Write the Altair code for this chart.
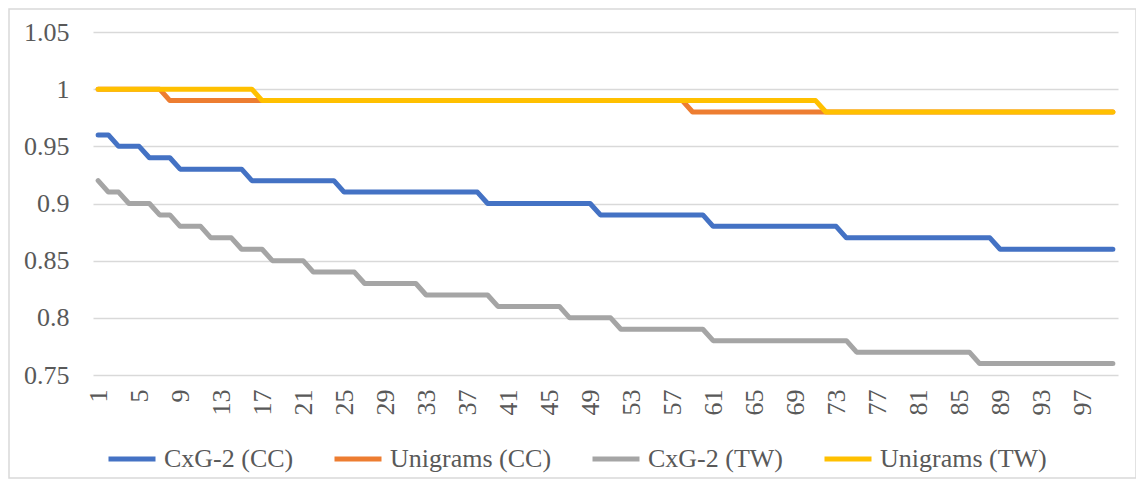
import altair as alt
import pandas as pd

# ---- data -------------------------------------------------------------
x_index = list(range(1, 101))
series_names = ["CxG-2 (CC)", "Unigrams (CC)", "CxG-2 (TW)", "Unigrams (TW)"]
series_colors = ["#4472C4", "#ED7D31", "#A5A5A5", "#FFC000"]
x_tick_labels = [1, 5, 9, 13, 17, 21, 25, 29, 33, 37, 41, 45, 49, 53, 57, 61, 65, 69, 73, 77, 81, 85, 89, 93, 97]
y_ticks = [0.75, 0.8, 0.85, 0.9, 0.95, 1, 1.05]

cxg_cc = [
    0.96, 0.96, 0.95, 0.95, 0.95, 0.94, 0.94, 0.94, 0.93, 0.93,
    0.93, 0.93, 0.93, 0.93, 0.93, 0.92, 0.92, 0.92, 0.92, 0.92,
    0.92, 0.92, 0.92, 0.92, 0.91, 0.91, 0.91, 0.91, 0.91, 0.91,
    0.91, 0.91, 0.91, 0.91, 0.91, 0.91, 0.91, 0.91, 0.90, 0.90,
    0.90, 0.90, 0.90, 0.90, 0.90, 0.90, 0.90, 0.90, 0.90, 0.89,
    0.89, 0.89, 0.89, 0.89, 0.89, 0.89, 0.89, 0.89, 0.89, 0.89,
    0.88, 0.88, 0.88, 0.88, 0.88, 0.88, 0.88, 0.88, 0.88, 0.88,
    0.88, 0.88, 0.88, 0.87, 0.87, 0.87, 0.87, 0.87, 0.87, 0.87,
    0.87, 0.87, 0.87, 0.87, 0.87, 0.87, 0.87, 0.87, 0.86, 0.86,
    0.86, 0.86, 0.86, 0.86, 0.86, 0.86, 0.86, 0.86, 0.86, 0.86,
]
uni_cc = [
    1.00, 1.00, 1.00, 1.00, 1.00, 1.00, 1.00, 0.99, 0.99, 0.99,
    0.99, 0.99, 0.99, 0.99, 0.99, 0.99, 0.99, 0.99, 0.99, 0.99,
    0.99, 0.99, 0.99, 0.99, 0.99, 0.99, 0.99, 0.99, 0.99, 0.99,
    0.99, 0.99, 0.99, 0.99, 0.99, 0.99, 0.99, 0.99, 0.99, 0.99,
    0.99, 0.99, 0.99, 0.99, 0.99, 0.99, 0.99, 0.99, 0.99, 0.99,
    0.99, 0.99, 0.99, 0.99, 0.99, 0.99, 0.99, 0.99, 0.98, 0.98,
    0.98, 0.98, 0.98, 0.98, 0.98, 0.98, 0.98, 0.98, 0.98, 0.98,
    0.98, 0.98, 0.98, 0.98, 0.98, 0.98, 0.98, 0.98, 0.98, 0.98,
    0.98, 0.98, 0.98, 0.98, 0.98, 0.98, 0.98, 0.98, 0.98, 0.98,
    0.98, 0.98, 0.98, 0.98, 0.98, 0.98, 0.98, 0.98, 0.98, 0.98,
]
cxg_tw = [
    0.92, 0.91, 0.91, 0.90, 0.90, 0.90, 0.89, 0.89, 0.88, 0.88,
    0.88, 0.87, 0.87, 0.87, 0.86, 0.86, 0.86, 0.85, 0.85, 0.85,
    0.85, 0.84, 0.84, 0.84, 0.84, 0.84, 0.83, 0.83, 0.83, 0.83,
    0.83, 0.83, 0.82, 0.82, 0.82, 0.82, 0.82, 0.82, 0.82, 0.81,
    0.81, 0.81, 0.81, 0.81, 0.81, 0.81, 0.80, 0.80, 0.80, 0.80,
    0.80, 0.79, 0.79, 0.79, 0.79, 0.79, 0.79, 0.79, 0.79, 0.79,
    0.78, 0.78, 0.78, 0.78, 0.78, 0.78, 0.78, 0.78, 0.78, 0.78,
    0.78, 0.78, 0.78, 0.78, 0.77, 0.77, 0.77, 0.77, 0.77, 0.77,
    0.77, 0.77, 0.77, 0.77, 0.77, 0.77, 0.76, 0.76, 0.76, 0.76,
    0.76, 0.76, 0.76, 0.76, 0.76, 0.76, 0.76, 0.76, 0.76, 0.76,
]
uni_tw = [
    1.00, 1.00, 1.00, 1.00, 1.00, 1.00, 1.00, 1.00, 1.00, 1.00,
    1.00, 1.00, 1.00, 1.00, 1.00, 1.00, 0.99, 0.99, 0.99, 0.99,
    0.99, 0.99, 0.99, 0.99, 0.99, 0.99, 0.99, 0.99, 0.99, 0.99,
    0.99, 0.99, 0.99, 0.99, 0.99, 0.99, 0.99, 0.99, 0.99, 0.99,
    0.99, 0.99, 0.99, 0.99, 0.99, 0.99, 0.99, 0.99, 0.99, 0.99,
    0.99, 0.99, 0.99, 0.99, 0.99, 0.99, 0.99, 0.99, 0.99, 0.99,
    0.99, 0.99, 0.99, 0.99, 0.99, 0.99, 0.99, 0.99, 0.99, 0.99,
    0.99, 0.98, 0.98, 0.98, 0.98, 0.98, 0.98, 0.98, 0.98, 0.98,
    0.98, 0.98, 0.98, 0.98, 0.98, 0.98, 0.98, 0.98, 0.98, 0.98,
    0.98, 0.98, 0.98, 0.98, 0.98, 0.98, 0.98, 0.98, 0.98, 0.98,
]

series_values = [cxg_cc, uni_cc, cxg_tw, uni_tw]
rows = []
for name, vals in zip(series_names, series_values):
    for i, v in zip(x_index, vals):
        rows.append({"idx": i, "value": v, "series": name})
df = pd.DataFrame(rows)

FONT = "Liberation Serif, Times New Roman, serif"
TXT = "#595959"

color_enc = alt.Color(
    "series:N",
    sort=series_names,
    scale=alt.Scale(domain=series_names, range=series_colors),
    legend=alt.Legend(
        title=None,
        orient="none",
        direction="horizontal",
        legendX=13,
        legendY=401,
        symbolType="stroke",
        symbolSize=2209,
        symbolStrokeWidth=5,
        labelFont=FONT,
        labelFontSize=26,
        labelColor=TXT,
        labelOffset=6,
        labelLimit=600,
        columnPadding=30,
    ),
)

x_enc = alt.X(
    "idx:O",
    title=None,
    scale=alt.Scale(type="point", padding=0.5),
    axis=alt.Axis(
        values=x_tick_labels,
        labelAngle=270,
        labelAlign="right",
        labelBaseline="middle",
        labelPadding=14,
        ticks=False,
        domain=False,
        grid=False,
        labelFont=FONT,
        labelFontSize=26,
        labelColor=TXT,
    ),
)

y_enc = alt.Y(
    "value:Q",
    title=None,
    scale=alt.Scale(domain=[0.75, 1.05], nice=False, zero=False),
    axis=alt.Axis(
        values=y_ticks,
        format="~g",
        ticks=False,
        domain=False,
        grid=True,
        gridColor="#D9D9D9",
        gridWidth=1.3,
        labelPadding=24,
        labelFont=FONT,
        labelFontSize=26,
        labelColor=TXT,
    ),
)

lines = []
for name in series_names:
    lines.append(
        alt.Chart(df[df["series"] == name])
        .mark_line(strokeWidth=5, strokeCap="round", strokeJoin="round")
        .encode(x=x_enc, y=y_enc, color=color_enc)
    )

border = (
    alt.Chart(pd.DataFrame({"a": [0]}))
    .mark_rect(fill="transparent", stroke="#D9D9D9", strokeWidth=1.5)
    .encode(
        x=alt.value(-84),
        x2=alt.value(1043),
        y=alt.value(-23),
        y2=alt.value(446),
    )
)

chart = (
    alt.layer(border, *lines)
    .properties(
        width=1025,
        height=343,
        autosize=alt.AutoSizeParams(type="none"),
        padding={"left": 85, "top": 24, "right": 18, "bottom": 105},
    )
    .configure_view(strokeWidth=0)
)

chart.save("out.html", embed_options={"renderer": "svg", "actions": False})
